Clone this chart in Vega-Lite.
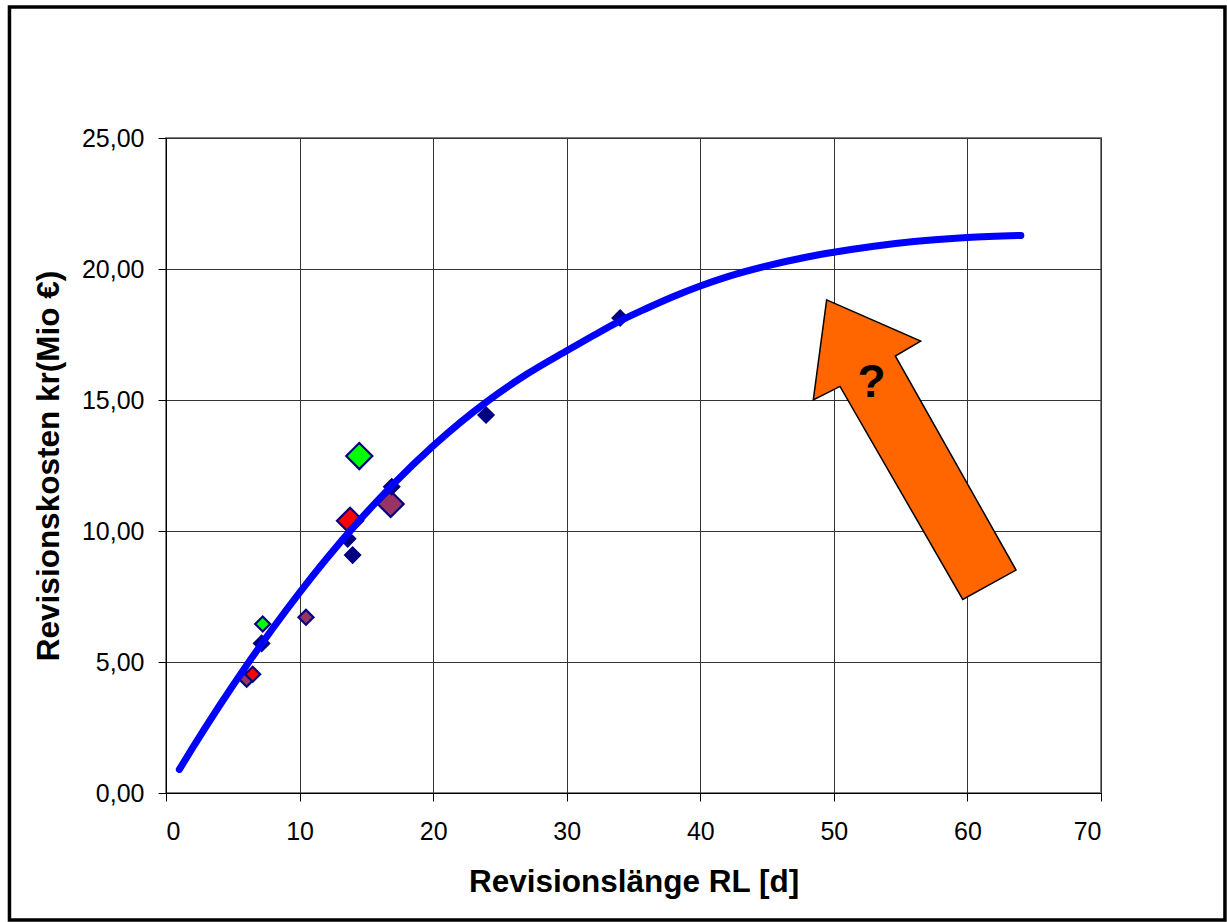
{
  "$schema": "https://vega.github.io/schema/vega-lite/v6.json",
  "width": 935,
  "height": 655,
  "autosize": {"type": "none"},
  "padding": {"left": 166, "top": 138, "right": 126, "bottom": 129},
  "background": "white",
  "config": {
    "font": "Liberation Sans",
    "view": {"stroke": "#808080", "strokeWidth": 2},
    "axis": {
      "labelFont": "Liberation Sans",
      "labelFontSize": 25,
      "labelColor": "black",
      "titleFont": "Liberation Sans",
      "titleFontSize": 31.5,
      "titleFontWeight": "bold",
      "titleColor": "black",
      "domainColor": "black",
      "domainWidth": 1,
      "tickColor": "black",
      "tickSize": 8,
      "gridColor": "#333333",
      "gridWidth": 1,
      "gridOpacity": 1
    }
  },
  "datasets": {
    "rahmen": [{"rl": -11.72, "rl2": 79.28, "kr": -4.85, "kr2": 30.0}],
    "messwerte": [
      {"rl": 6.04, "kr": 4.34, "typ": "B", "groesse": "klein"},
      {"rl": 6.49, "kr": 4.53, "typ": "C", "groesse": "klein"},
      {"rl": 7.24, "kr": 6.45, "typ": "D", "groesse": "klein"},
      {"rl": 7.16, "kr": 5.71, "typ": "A", "groesse": "klein"},
      {"rl": 10.48, "kr": 6.71, "typ": "B", "groesse": "klein"},
      {"rl": 13.6, "kr": 9.7, "typ": "A", "groesse": "klein"},
      {"rl": 13.97, "kr": 9.08, "typ": "A", "groesse": "klein"},
      {"rl": 13.78, "kr": 10.39, "typ": "C", "groesse": "groß"},
      {"rl": 14.47, "kr": 12.86, "typ": "D", "groesse": "groß"},
      {"rl": 16.82, "kr": 11.03, "typ": "B", "groesse": "groß"},
      {"rl": 16.9, "kr": 11.69, "typ": "A", "groesse": "klein"},
      {"rl": 23.96, "kr": 14.43, "typ": "A", "groesse": "klein"},
      {"rl": 34.0, "kr": 18.13, "typ": "A", "groesse": "klein"}
    ],
    "trend": [
      {"rl": 1.0, "kr": 0.9},
      {"rl": 2.0, "kr": 1.73},
      {"rl": 4.0, "kr": 3.33},
      {"rl": 6.0, "kr": 4.85},
      {"rl": 8.0, "kr": 6.29},
      {"rl": 10.0, "kr": 7.65},
      {"rl": 12.0, "kr": 8.93},
      {"rl": 14.0, "kr": 10.13},
      {"rl": 17.0, "kr": 11.78},
      {"rl": 20.0, "kr": 13.25},
      {"rl": 24.0, "kr": 14.93},
      {"rl": 27.0, "kr": 15.98},
      {"rl": 30.0, "kr": 16.88},
      {"rl": 32.0, "kr": 17.46},
      {"rl": 34.0, "kr": 18.02},
      {"rl": 36.0, "kr": 18.5},
      {"rl": 38.0, "kr": 18.95},
      {"rl": 40.0, "kr": 19.35},
      {"rl": 42.0, "kr": 19.7},
      {"rl": 45.0, "kr": 20.12},
      {"rl": 48.0, "kr": 20.46},
      {"rl": 50.0, "kr": 20.64},
      {"rl": 53.0, "kr": 20.87},
      {"rl": 56.0, "kr": 21.05},
      {"rl": 60.0, "kr": 21.2},
      {"rl": 64.0, "kr": 21.28}
    ],
    "pfeil": [
      {"i": 1, "rl": 49.46, "kr": 18.82},
      {"i": 2, "rl": 56.5, "kr": 17.25},
      {"i": 3, "rl": 54.6, "kr": 16.68},
      {"i": 4, "rl": 63.64, "kr": 8.51},
      {"i": 5, "rl": 59.65, "kr": 7.39},
      {"i": 6, "rl": 50.46, "kr": 15.52},
      {"i": 7, "rl": 48.46, "kr": 15.0}
    ],
    "frage": [{"rl": 52.83, "kr": 15.64, "text": "?"}]
  },
  "layer": [
    {
      "data": {"name": "messwerte"},
      "mark": {"type": "point", "shape": "diamond", "filled": true, "stroke": "#000080", "strokeWidth": 2.2, "opacity": 1},
      "encoding": {
        "x": {
          "field": "rl", "type": "quantitative",
          "scale": {"domain": [0, 70], "nice": false, "zero": false},
          "axis": {
            "title": "Revisionslänge RL [d]",
            "values": [0, 10, 20, 30, 40, 50, 60, 70],
            "grid": true,
            "labelPadding": 18,
            "titlePadding": 22
          }
        },
        "y": {
          "field": "kr", "type": "quantitative",
          "scale": {"domain": [0, 25], "nice": false, "zero": false},
          "axis": {
            "title": "Revisionskosten kr(Mio €)",
            "values": [0, 5, 10, 15, 20, 25],
            "grid": true,
            "labelExpr": "replace(format(datum.value, '.2f'), '.', ',')",
            "labelPadding": 14,
            "titlePadding": 16
          }
        },
        "fill": {
          "field": "typ", "type": "nominal",
          "scale": {"domain": ["A", "B", "C", "D"], "range": ["#000080", "#993366", "#ff0000", "#00ff00"]},
          "legend": null
        },
        "size": {
          "field": "groesse", "type": "nominal",
          "scale": {"domain": ["klein", "groß"], "range": [225, 680]},
          "legend": null
        }
      }
    },
    {
      "data": {"name": "trend"},
      "mark": {"type": "line", "color": "#0000ff", "strokeWidth": 7, "strokeCap": "round", "interpolate": "monotone"},
      "encoding": {
        "x": {"field": "rl", "type": "quantitative"},
        "y": {"field": "kr", "type": "quantitative"}
      }
    },
    {
      "data": {"name": "pfeil"},
      "mark": {"type": "line", "interpolate": "linear-closed", "fill": "#ff6600", "stroke": "black", "strokeWidth": 1.5, "strokeJoin": "miter"},
      "encoding": {
        "x": {"field": "rl", "type": "quantitative"},
        "y": {"field": "kr", "type": "quantitative"},
        "order": {"field": "i", "type": "quantitative"}
      }
    },
    {
      "data": {"name": "frage"},
      "mark": {"type": "text", "font": "Liberation Sans", "fontSize": 46, "fontWeight": "bold", "color": "black", "baseline": "middle", "align": "center"},
      "encoding": {
        "x": {"field": "rl", "type": "quantitative"},
        "y": {"field": "kr", "type": "quantitative"},
        "text": {"field": "text"}
      }
    },
    {
      "data": {"name": "rahmen"},
      "mark": {"type": "rect", "fill": null, "fillOpacity": 0, "stroke": "black", "strokeWidth": 3.5},
      "encoding": {
        "x": {"field": "rl", "type": "quantitative"},
        "x2": {"field": "rl2"},
        "y": {"field": "kr", "type": "quantitative"},
        "y2": {"field": "kr2"}
      }
    }
  ]
}
